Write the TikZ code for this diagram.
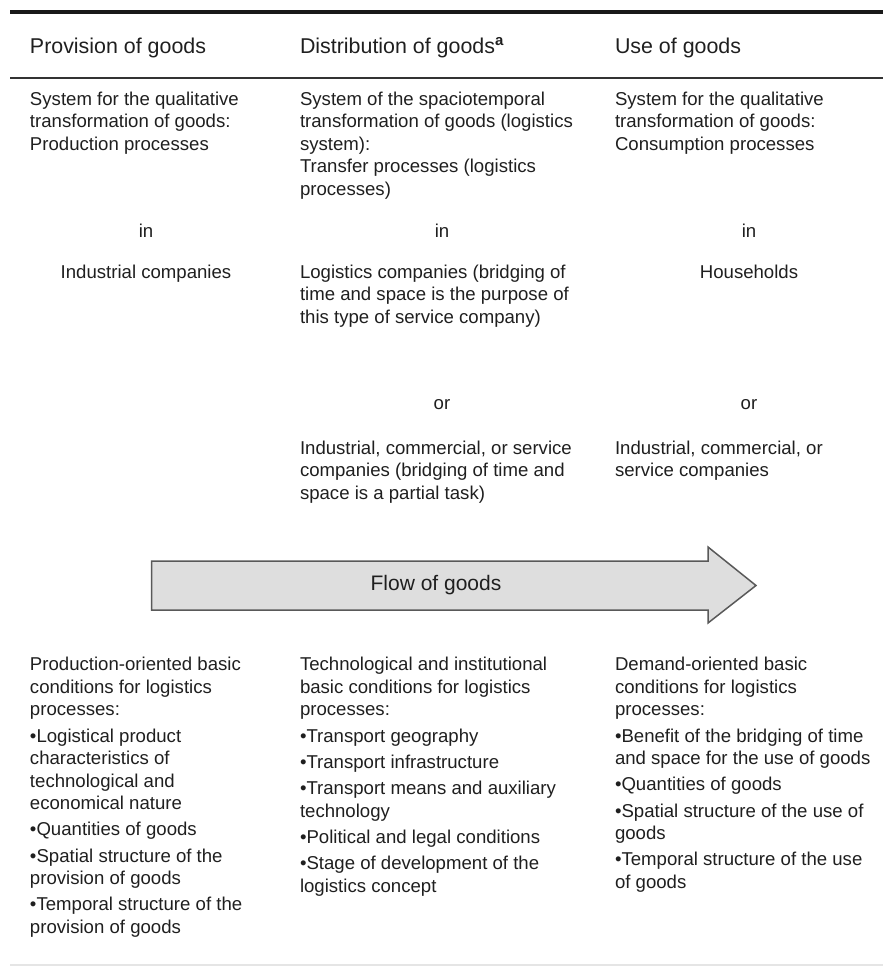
\documentclass[tikz,border=0pt]{standalone}
\usepackage{fontspec}
\setmainfont{Liberation Sans}

\begin{document}
\begin{tikzpicture}[x=1pt, y=-1pt,
    every node/.style={inner sep=0pt, outer sep=0pt, text=black!88},
    head/.style={anchor=base west, font=\fontsize{21.4}{25}\selectfont},
    cell/.style={anchor=base west, align=left, font=\fontsize{18.6}{22.5}\selectfont},
    mid/.style={anchor=base, align=center, font=\fontsize{18.6}{22.5}\selectfont},
    toprule/.style={line width=4pt, black!90},
    midrule/.style={line width=2.5pt, black!80},
    flowarrow/.style={fill=black!13, draw=black!65, line width=1.5pt, line join=miter}
]

    % --- Page frame ---
    \useasboundingbox (0,0) rectangle (883,967);

    % --- Column positions ---
    % left edges of the three columns
    \def\colA{30}
    \def\colB{300}
    \def\colC{615}
    % centres of the three columns
    \def\cenA{146}
    \def\cenB{442}
    \def\cenC{749}
    % line pitch; a multi-line node sits on the baseline of its LAST line
    \def\ls{22.5}
    \def\gap{3.8}

    % --- Rules ---
    \coordinate (topL) at (10,11.5);
    \coordinate (topR) at (883,11.5);
    \coordinate (midL) at (10,78);
    \coordinate (midR) at (883,78);
    \draw[toprule] (topL) -- (topR);
    \draw[midrule] (midL) -- (midR);
    % faint line at the very bottom
    \draw[line width=1.2pt, black!10] (10,965) -- (883,965);

    % --- Header ---
    \node[head] (provision) at (\colA,53) {Provision of goods};
    \node[head] (distribution) at (\colB,53) {Distribution of goods\textsuperscript{\textbf{a}}};
    \node[head] (use) at (\colC,53) {Use of goods};

    % --- Systems (first lines at y=105) ---
    \node[cell] (sysprov) at (\colA,105+2*\ls) {System for the qualitative\\transformation of goods:\\Production processes};
    \node[cell] (sysdist) at (\colB,105+4*\ls) {System of the spaciotemporal\\transformation of goods (logistics\\system):\\Transfer processes (logistics\\processes)};
    \node[cell] (sysuse) at (\colC,105+2*\ls) {System for the qualitative\\transformation of goods:\\Consumption processes};

    % --- "in" ---
    \node[mid] (inprov) at (\cenA,237) {in};
    \node[mid] (indist) at (\cenB,237) {in};
    \node[mid] (inuse) at (\cenC,237) {in};

    % --- Institutions (first lines at y=278) ---
    \node[mid] (industrial) at (\cenA,278) {Industrial companies};
    \node[cell] (logistics) at (\colB,278+2*\ls) {Logistics companies (bridging of\\time and space is the purpose of\\this type of service company)};
    \node[mid] (households) at (\cenC,278) {Households};

    % --- "or" ---
    \node[mid] (ordist) at (\cenB,409) {or};
    \node[mid] (oruse) at (\cenC,409) {or};

    \node[cell] (altdist) at (\colB,454+2*\ls) {Industrial, commercial, or service\\companies (bridging of time and\\space is a partial task)};
    \node[cell] (altuse) at (\colC,454+\ls) {Industrial, commercial, or\\service companies};

    % --- Flow of goods arrow ---
    % body from x=151.5 to 708, head up to the tip at 756
    \coordinate (tailT) at (151.5,561);
    \coordinate (tailB) at (151.5,610);
    \coordinate (neckT) at (708,561);
    \coordinate (neckB) at (708,610);
    \coordinate (barbT) at (708,547);
    \coordinate (barbB) at (708,623);
    \coordinate (tip) at (756,585.5);
    \draw[flowarrow] (tailT) -- (neckT) -- (barbT) -- (tip) -- (barbB) -- (neckB) -- (tailB) -- cycle;
    \node[font=\fontsize{21}{25}\selectfont] (flow) at (436,585.5) {Flow of goods};

    % --- Basic conditions (first lines at y=670.7) ---
    \node[cell] (condprov) at (\colA,670.7+11*\ls+4*\gap) {Production-oriented basic\\conditions for logistics\\processes:\\[\gap pt]
        •Logistical product\\characteristics of\\technological and\\economical nature\\[\gap pt]
        •Quantities of goods\\[\gap pt]
        •Spatial structure of the\\provision of goods\\[\gap pt]
        •Temporal structure of the\\provision of goods};
    \node[cell] (conddist) at (\colB,670.7+9*\ls+5*\gap) {Technological and institutional\\basic conditions for logistics\\processes:\\[\gap pt]
        •Transport geography\\[\gap pt]
        •Transport infrastructure\\[\gap pt]
        •Transport means and auxiliary\\technology\\[\gap pt]
        •Political and legal conditions\\[\gap pt]
        •Stage of development of the\\logistics concept};
    \node[cell] (conduse) at (\colC,670.7+9*\ls+4*\gap) {Demand-oriented basic\\conditions for logistics\\processes:\\[\gap pt]
        •Benefit of the bridging of time\\and space for the use of goods\\[\gap pt]
        •Quantities of goods\\[\gap pt]
        •Spatial structure of the use of\\goods\\[\gap pt]
        •Temporal structure of the use\\of goods};

\end{tikzpicture}
\end{document}
